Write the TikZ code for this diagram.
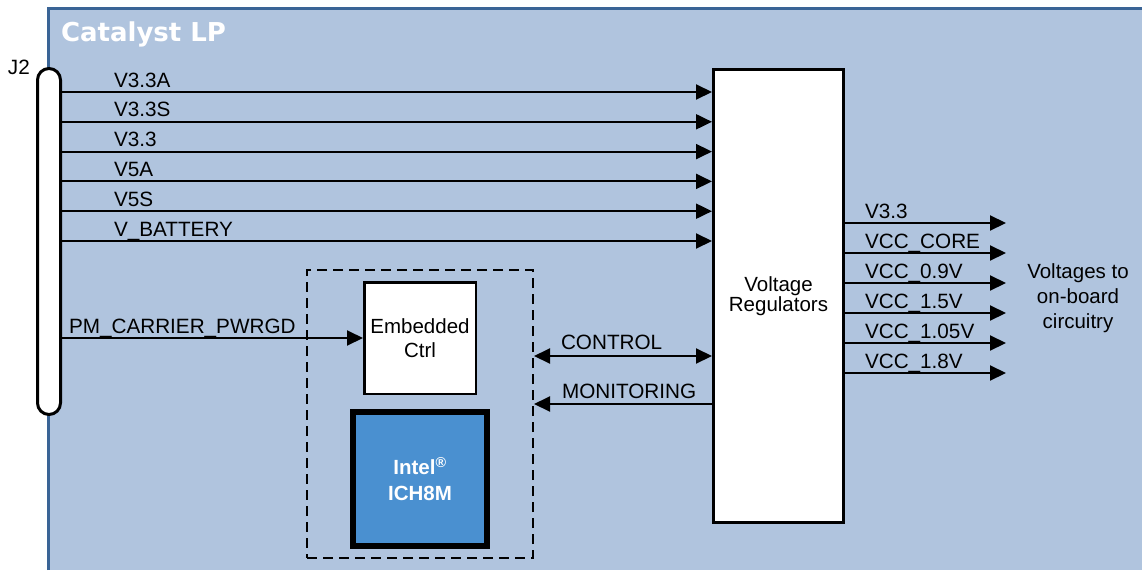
\documentclass[tikz,border=0pt]{standalone}
\usepackage{fontspec}
\setmainfont{Liberation Sans}
\newfontfamily\titlefont{DejaVu Sans}
\usepackage{tikz}
\usetikzlibrary{arrows.meta,positioning}
\definecolor{boardfill}{RGB}{176,196,222}
\definecolor{boardline}{RGB}{58,100,150}
\definecolor{chipfill}{RGB}{74,144,208}
\tikzset{
  sig/.style    = {font=\fontsize{20.7}{22}\selectfont, inner sep=0pt},
  title/.style  = {font=\titlefont\bfseries\fontsize{26}{28}\selectfont, text=white, inner sep=0pt},
  conn/.style   = {draw, fill=white, line width=3pt, rounded corners=11.5pt,
                   minimum width=23pt},
  block/.style  = {draw, fill=white, align=center, inner sep=0pt},
  chip/.style   = {block, fill=chipfill, line width=6pt, text=white,
                   font=\bfseries\fontsize{20.5}{26}\selectfont},
  group/.style  = {draw, line width=2pt, dash pattern=on 10pt off 6pt}
}

\begin{document}
\begin{tikzpicture}[x=1pt, y=-1pt, line width=2pt,
  >={Triangle[length=16pt,width=15pt]}]
\useasboundingbox (0,0) rectangle (1142,570);

% board outline
\fill[boardfill] (48,8) rectangle (1142,570);
\draw[boardline, line width=3pt] (48,570) |- (1142,8);
\node[title, anchor=base west] (board) at (60,41) {Catalyst LP};

% connector and blocks
\node[conn, minimum height=346pt] (j2) at (49,241.5) {};
\node[sig, anchor=base west] (j2lab) at (7,74) {J2};
\node[block, line width=3pt, minimum width=130pt, minimum height=453pt,
      font=\fontsize{20.5}{17}\selectfont] (vr) at (778.5,296) {Voltage\\Regulators};
\node[group, minimum width=226pt, minimum height=288pt] (sio) at (420,414) {};
\node[block, line width=2.5pt, minimum width=111.5pt, minimum height=111.5pt,
      font=\fontsize{20.5}{24}\selectfont] (ec) at (420,338) {Embedded\\Ctrl};
\node[chip, minimum width=134pt, minimum height=134pt] (ich) at (420,479)
      {Intel\textsuperscript{\textregistered}\\ICH8M};

% supply rails from J2
\foreach \value [count=\k] in {V3.3A,V3.3S,V3.3,V5A,V5S,V\_BATTERY} {
  \pgfmathsetmacro\yy{62.2+29.8*\k}
  \draw[->] (j2.east |- 0,\yy) -- (vr.west |- 0,\yy);
  \node[sig, anchor=base west] (in\k) at (113,\yy-5) {\value};
}

% regulated outputs
\coordinate (loads) at (1006,0);
\foreach \value [count=\k] in {V3.3,VCC\_CORE,VCC\_0.9V,VCC\_1.5V,VCC\_1.05V,VCC\_1.8V} {
  \pgfmathsetmacro\yy{193+30*\k}
  \draw[->] (vr.east |- 0,\yy) -- (loads |- 0,\yy);
  \node[sig, anchor=base west] (out\k) at (864,\yy-5) {\value};
}
\node[sig, align=center, font=\fontsize{20.5}{25}\selectfont] (loadtxt) at (1078,298)
  {Voltages to\\on-board\\circuitry};

% control signals
\draw[->] (j2.east |- ec.west) -- (ec.west);
\node[sig, anchor=base west] (pwrgd) at (68,333) {PM\_CARRIER\_PWRGD};
\draw[<->] (sio.east |- 0,356) -- (vr.west |- 0,356);
\node[sig, anchor=base west] (ctrl) at (560,349) {CONTROL};
\draw[<-] (sio.east |- 0,404) -- (vr.west |- 0,404);
\node[sig, anchor=base west] (mon) at (561,398) {MONITORING};
\end{tikzpicture}
\end{document}
